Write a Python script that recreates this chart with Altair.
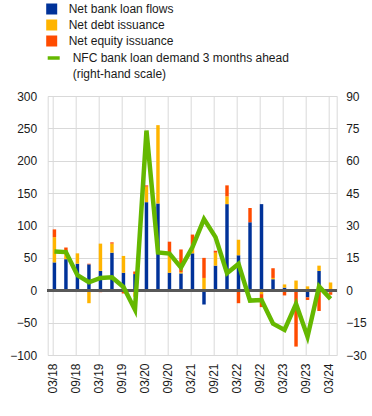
import json
import altair as alt
import pandas as pd

quarters = ["03/18", "06/18", "09/18", "12/18", "03/19", "06/19", "09/19", "12/19",
            "03/20", "06/20", "09/20", "12/20", "03/21", "06/21", "09/21", "12/21",
            "03/22", "06/22", "09/22", "12/22", "03/23", "06/23", "09/23", "12/23", "03/24"]
bank_loans = [43, 48, 41, 40, 30, 58, 27, 25, 136, 134, 27, 26, 57, -22, 38, 133,
              54, 105, 133, 17, 4, 0, -11, 30, -3]
debt_issuance = [39, 12, 16, -20, 42, 14, 26, -10, 24, 121, 29, 2, 11, 19, 20, 12,
                 24, 0, -6, 2, 5, 15, 6, 8, 12]
equity_issuance = [12, 6, 0, 1, -3, 2, -5, 4, 2, 0, 19, 35, 18, 31, 3, 17,
                   -20, 22, -20, 15, -8, -87, -4, -32, -4]
loan_demand = [18, 17.7, 7, 3.7, 5.7, 6, 1.5, -9, 74, 17.5, 17, 10.5, 20, 33, 24.6, 7.9,
               12.2, -4.8, -4.5, -15.5, -18.4, -6.3, -21.5, 1.8, -4]

series_names = ["Net bank loan flows", "Net debt issuance", "Net equity issuance"]
line_name = "NFC bank loan demand 3 months ahead"
line_note = "(right-hand scale)"
tick_labels = quarters[::2]
left_ticks = [-100, -50, 0, 50, 100, 150, 200, 250, 300]
right_ticks = [-30, -15, 0, 15, 30, 45, 60, 75, 90]

BLUE, YELLOW, ORANGE, GREEN = "#003299", "#ffb400", "#ff4b00", "#65b800"
FONT = "Liberation Sans"
TXT = "#1a1a1a"
GRID = "#d9d9d9"

rows = []
for k, (name, vals) in enumerate(zip(series_names, [bank_loans, debt_issuance, equity_issuance])):
    for i, q in enumerate(quarters):
        rows.append({"idx": i, "idx2": i + 0.3, "quarter": q, "series": name,
                     "order": k, "value": vals[i]})
bars_df = pd.DataFrame(rows)
line_df = pd.DataFrame({"idx": [i + 0.15 for i in range(len(quarters))],
                        "series": line_name, "value": loan_demand})

x_scale = alt.Scale(domain=[0, 24.25], nice=False, zero=False)
y_left_scale = alt.Scale(domain=[-100, 300], nice=False)
label_expr = json.dumps(tick_labels) + "[round(datum.value / 2)]"
x_axis = alt.Axis(values=list(range(0, 25, 2)), labelExpr=label_expr, title=None,
                  grid=True, gridColor=GRID, domain=False, ticks=False,
                  labelAngle=270, labelPadding=8, labelFontSize=12, labelFont=FONT,
                  labelColor=TXT, labelOverlap=False, labelFlush=False)
y_left_axis = alt.Axis(values=left_ticks, title=None, grid=True, gridColor=GRID,
                       domain=False, ticks=False, labelPadding=11,
                       labelOverlap=False, labelFlush=False,
                       labelFontSize=12, labelFont=FONT, labelColor=TXT)

bars = alt.Chart(bars_df).mark_bar(orient="vertical").encode(
    x=alt.X("idx:Q", scale=x_scale, axis=x_axis),
    x2="idx2:Q",
    y=alt.Y("value:Q", stack="zero", scale=y_left_scale, axis=y_left_axis),
    fill=alt.Fill("series:N", scale=alt.Scale(domain=series_names, range=[BLUE, YELLOW, ORANGE]),
                  legend=alt.Legend(title=None, orient="none", legendX=-2, legendY=-93,
                                    symbolType="square", symbolSize=121, symbolStrokeWidth=0,
                                    labelFontSize=12, labelFont=FONT, labelColor=TXT,
                                    labelOffset=11, rowPadding=4, padding=0, labelLimit=400)),
    order=alt.Order("order:Q"),
)

zero_rule = alt.Chart(bars_df).mark_rule(color="#595959", strokeWidth=2).encode(
    y=alt.Y(datum=0, scale=y_left_scale, axis=y_left_axis)
)

line = alt.Chart(line_df).mark_line(strokeWidth=4.5, strokeJoin="miter").encode(
    x=alt.X("idx:Q", scale=x_scale, axis=x_axis),
    y=alt.Y("value:Q", scale=alt.Scale(domain=[-30, 90], nice=False),
            axis=alt.Axis(orient="right", values=right_ticks, title=None, grid=False,
                          domain=False, ticks=False, labelPadding=9,
                          labelOverlap=False, labelFlush=False,
                          labelFontSize=12, labelFont=FONT, labelColor=TXT)),
    stroke=alt.Stroke("series:N",
                      scale=alt.Scale(domain=[line_name, line_note], range=[GREEN, "transparent"]),
                      legend=alt.Legend(title=None, orient="none", legendX=-2, legendY=-46,
                                        symbolType="stroke", symbolSize=144, symbolStrokeWidth=3.5,
                                        labelFontSize=12, labelFont=FONT, labelColor=TXT,
                                        labelOffset=11, rowPadding=1, padding=0, labelLimit=400)),
)

chart = alt.layer(alt.layer(bars, zero_rule), line).resolve_scale(
    y="independent"
).properties(
    width=289, height=259,
    padding={"left": 47.7, "top": 96, "right": 35.3, "bottom": 61},
    autosize=alt.AutoSizeParams(type="none"),
).configure_view(stroke=GRID)

chart.save("out.html", embed_options={"renderer": "svg", "actions": False})
